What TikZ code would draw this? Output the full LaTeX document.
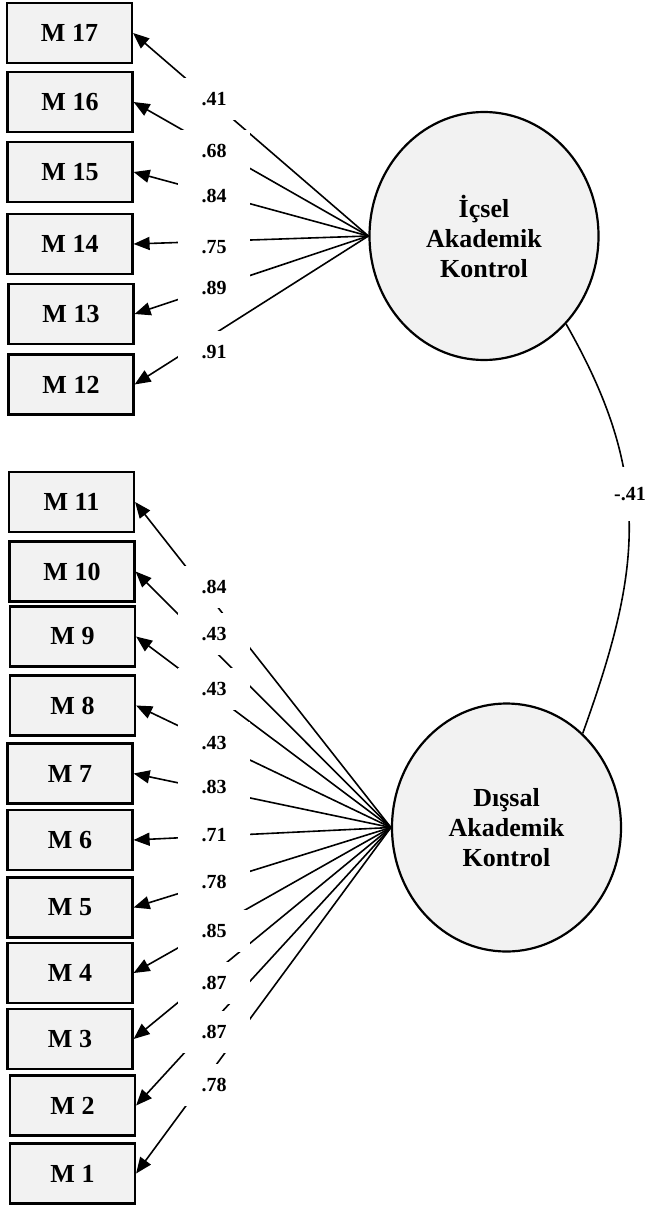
\documentclass[tikz,border=0pt]{standalone}
\usepackage{fontspec}
\setmainfont{Liberation Serif}
\usetikzlibrary{arrows.meta,shapes.geometric}
\definecolor{boxfill}{HTML}{F2F2F2}
\begin{document}
\begin{tikzpicture}[x=1pt,y=-1pt,
 obs/.style={draw=black, line width=2.2pt, fill=boxfill, minimum width=125pt, minimum height=60pt, inner sep=0pt, font=\fontsize{26}{30}\selectfont\bfseries},
 lat/.style={ellipse, draw=black, line width=2.2pt, fill=boxfill, minimum width=229pt, minimum height=248pt, inner sep=0pt, align=center, font=\fontsize{26}{30}\selectfont\bfseries},
 loadline/.style={line width=1.6pt, -{Triangle[length=16pt,width=13pt]}},
 coef/.style={fill=white, minimum width=72pt, minimum height=42pt, inner sep=0pt, font=\fontsize{20}{24}\selectfont\bfseries},
]
\useasboundingbox (0,0) rectangle (646,1206);
% observed indicators
\node[obs] (m17) at (69.5,33) {M 17};
\node[obs] (m16) at (70,102) {M 16};
\node[obs] (m15) at (70,172) {M 15};
\node[obs] (m14) at (70,244) {M 14};
\node[obs] (m13) at (71,314) {M 13};
\node[obs] (m12) at (71,384.5) {M 12};
\node[obs] (m11) at (71.5,502) {M 11};
\node[obs] (m10) at (72,571.5) {M 10};
\node[obs] (m9) at (72.5,636.5) {M 9};
\node[obs] (m8) at (72.5,705.5) {M 8};
\node[obs] (m7) at (70,773.5) {M 7};
\node[obs] (m6) at (70,840) {M 6};
\node[obs] (m5) at (70,907.5) {M 5};
\node[obs] (m4) at (70,973) {M 4};
\node[obs] (m3) at (70,1039) {M 3};
\node[obs] (m2) at (72.5,1105.5) {M 2};
\node[obs] (m1) at (72.5,1173.5) {M 1};
% latent variables
\node[lat] (ic) at (484,236) {İçsel\\Akademik\\Kontrol};
\node[lat] (dis) at (506.5,827.5) {Dışsal\\Akademik\\Kontrol};
% loadings
\foreach \m in {m17,m16,m15,m14,m13,m12}
  \draw[loadline] (ic.west) -- (\m.east);
\foreach \m in {m11,m10,m9,m8,m7,m6,m5,m4,m3,m2,m1}
  \draw[loadline] (dis.west) -- (\m.east);
% correlation
\draw[line width=1.6pt] (ic.-47) .. controls (654,478) and (641,571) .. (dis.51);
% coefficient labels
\node[coef] (c17) at (214,99) {.41};
\node[coef] (c16) at (214,151) {.68};
\node[coef] (c15) at (214,196) {.84};
\node[coef] (c14) at (214,247) {.75};
\node[coef] (c13) at (214,288) {.89};
\node[coef] (c12) at (214,352) {.91};
\node[coef] (c11) at (214,587) {.84};
\node[coef] (c10) at (214,634) {.43};
\node[coef] (c9) at (214,689) {.43};
\node[coef] (c8) at (214,743) {.43};
\node[coef] (c7) at (214,787) {.83};
\node[coef] (c6) at (214,835) {.71};
\node[coef] (c5) at (214,882) {.78};
\node[coef] (c4) at (214,931) {.85};
\node[coef] (c3) at (214,983) {.87};
\node[coef] (c2) at (214,1032) {.87};
\node[coef] (c1) at (214,1085) {.78};
\node[coef, minimum width=34pt, minimum height=54pt] (r) at (630,494) {-.41};
\end{tikzpicture}
\end{document}
